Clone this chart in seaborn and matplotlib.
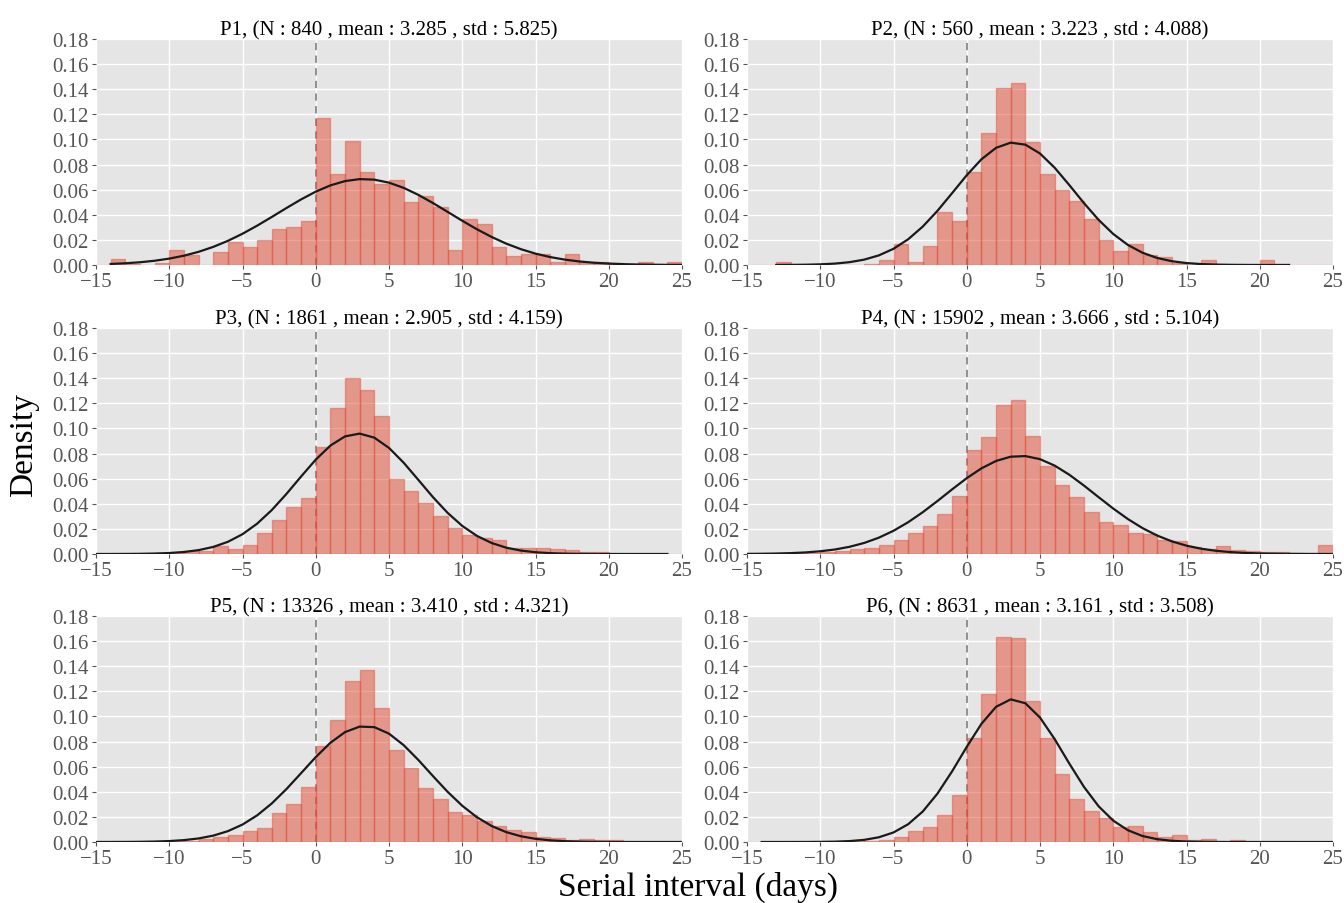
import numpy as np
import pandas as pd
import matplotlib
matplotlib.use("Agg")
import matplotlib.pyplot as plt
import seaborn as sns

# ---------------- data ----------------
bin_left = list(range(-15, 25))  # integer bins of width 1, -15 .. 25

panels = ["P1", "P2", "P3", "P4", "P5", "P6"]
n_obs = [840, 560, 1861, 15902, 13326, 8631]
means = [3.285, 3.223, 2.905, 3.666, 3.410, 3.161]
stds = [5.825, 4.088, 4.159, 5.104, 4.321, 3.508]
curve_start = [-14, -13, -15, -15, -15, -14]
curve_end = [25, 22, 24, 25, 25, 25]

p1_density = [0, 0.005, 0.001, 0, 0.0015, 0.012, 0.008, 0, 0.010, 0.018,
              0.0147, 0.020, 0.029, 0.030, 0.0347,
              0.1168, 0.0723, 0.0987, 0.0744, 0.0648, 0.0675, 0.0504, 0.0552, 0.0464, 0.0123,
              0.0363, 0.0325, 0.0147, 0.0075, 0.0088, 0.0088, 0.0024, 0.009, 0.0027, 0.0027,
              0.0016, 0, 0.002, 0, 0.002]
p2_density = [0, 0, 0.0027, 0, 0, 0, 0, 0, 0.001, 0.004,
              0.017, 0.0027, 0.0155, 0.042, 0.0347,
              0.0744, 0.105, 0.141, 0.145, 0.098, 0.0728, 0.060, 0.051, 0.0365, 0.020,
              0.0115, 0.017, 0.008, 0.0064, 0.0016, 0, 0.004, 0, 0, 0,
              0.004, 0.001, 0, 0, 0]
p3_density = [0.0003, 0.0003, 0.0003, 0.0003, 0.0004, 0.0005, 0.002, 0.002, 0.006, 0.0037,
              0.0074, 0.0164, 0.027, 0.0373, 0.0447,
              0.0852, 0.1165, 0.1398, 0.131, 0.110, 0.0598, 0.0503, 0.0408, 0.0302, 0.0206,
              0.0148, 0.0127, 0.0111, 0.005, 0.005, 0.005, 0.0037, 0.0029, 0.0013, 0.0013,
              0, 0, 0, 0, 0]
p4_density = [0.0003, 0.0003, 0.0005, 0.0005, 0.0008, 0.0013, 0.002, 0.0037, 0.0045, 0.0069,
              0.011, 0.0165, 0.022, 0.0319, 0.0465,
              0.083, 0.093, 0.119, 0.1226, 0.094, 0.070, 0.0547, 0.0457, 0.0334, 0.0257,
              0.023, 0.0167, 0.016, 0.0111, 0.010, 0.0056, 0.0037, 0.006, 0.0032, 0.0027,
              0.0016, 0.0016, 0.001, 0, 0.0069]
p5_density = [0, 0, 0, 0, 0, 0.0005, 0.0008, 0.0025, 0.004, 0.0056,
              0.0085, 0.011, 0.0228, 0.0302, 0.044,
              0.0764, 0.0973, 0.128, 0.1373, 0.1071, 0.0732, 0.0586, 0.0432, 0.0342, 0.0241,
              0.0212, 0.0167, 0.0125, 0.0095, 0.0077, 0.0042, 0.0034, 0.0013, 0.0021, 0.0013,
              0.0013, 0, 0, 0, 0]
p6_density = [0, 0, 0, 0, 0, 0, 0, 0.0005, 0.0008, 0.0019,
              0.0042, 0.0087, 0.0119, 0.0215, 0.0374,
              0.0827, 0.1182, 0.1636, 0.1625, 0.1124, 0.0827, 0.0538, 0.0345, 0.0244, 0.0191,
              0.0117, 0.0127, 0.0077, 0.004, 0.0053, 0.0019, 0.0027, 0, 0.0013, 0,
              0, 0, 0, 0, 0]
densities = [p1_density, p2_density, p3_density, p4_density, p5_density, p6_density]

x_ticks = [-15, -10, -5, 0, 5, 10, 15, 20, 25]
y_ticks = [0.00, 0.02, 0.04, 0.06, 0.08, 0.10, 0.12, 0.14, 0.16, 0.18]

# ---------------- style ----------------
plt.style.use("ggplot")
sns.set_style({"axes.facecolor": "#E5E5E5", "grid.color": "white",
               "axes.edgecolor": "#E5E5E5"})
plt.rcParams["font.family"] = ["Liberation Serif", "DejaVu Serif"]
plt.rcParams["xtick.color"] = "#555555"
plt.rcParams["ytick.color"] = "#555555"

fig = plt.figure(figsize=(13.44, 9.04), dpi=100)

W, H = 1344, 904
col_left = [96, 747]
ax_w = 586
row_top = [40, 329, 617]
ax_h = 226

centers = [b + 0.5 for b in bin_left]
bar_color = "#E24A33"
edge_rgba = (0.886, 0.290, 0.200, 0.45)

for i in range(6):
    r, c = divmod(i, 2)
    ax = fig.add_axes([col_left[c] / W, 1 - (row_top[r] + ax_h) / H, ax_w / W, ax_h / H])
    df = pd.DataFrame({"x": centers, "w": densities[i]})
    sns.histplot(data=df, x="x", weights="w", binwidth=1, binrange=(bin_left[0], bin_left[-1] + 1),
                 stat="count", color=bar_color, alpha=0.5, ax=ax)
    for p in ax.patches:
        p.set_edgecolor(edge_rgba)
        p.set_linewidth(1.0)
    xs = np.arange(curve_start[i], curve_end[i] + 1, dtype=float)
    pdf = np.exp(-0.5 * ((xs - means[i]) / stds[i]) ** 2) / (stds[i] * np.sqrt(2 * np.pi))
    sns.lineplot(x=xs, y=pdf, color="#1a1a1a", linewidth=1.6, ax=ax, zorder=3)
    ax.axvline(0, color="#888888", linestyle="--", linewidth=1.3, dashes=(4, 3), zorder=0.9)
    ax.set_xlim(-15, 25)
    ax.set_ylim(0, 0.18)
    ax.set_xticks(x_ticks)
    ax.set_yticks(y_ticks)
    ax.set_xticklabels([f"\u2212{abs(t)}" if t < 0 else str(t) for t in x_ticks])
    ax.set_yticklabels([f"{t:.2f}" for t in y_ticks])
    ax.tick_params(labelsize=15, length=3, width=0.8, pad=2, colors="#555555")
    ax.set_xlabel("")
    ax.set_ylabel("")
    ax.grid(True, color="white", linewidth=1.0)
    ax.set_axisbelow(True)
    for s in ax.spines.values():
        s.set_visible(False)
    ax.set_title(f"{panels[i]}, (N : {n_obs[i]} , mean : {means[i]:.3f} , std : {stds[i]:.3f})",
                 fontsize=15, color="black", pad=3)

fig.text(0.018, 0.508, "Density", rotation=90, fontsize=24, ha="center", va="center", color="black")
fig.text(0.519, 0.018, "Serial interval (days)", fontsize=24, ha="center", va="center", color="black")

fig.savefig("out.png", dpi=100)
